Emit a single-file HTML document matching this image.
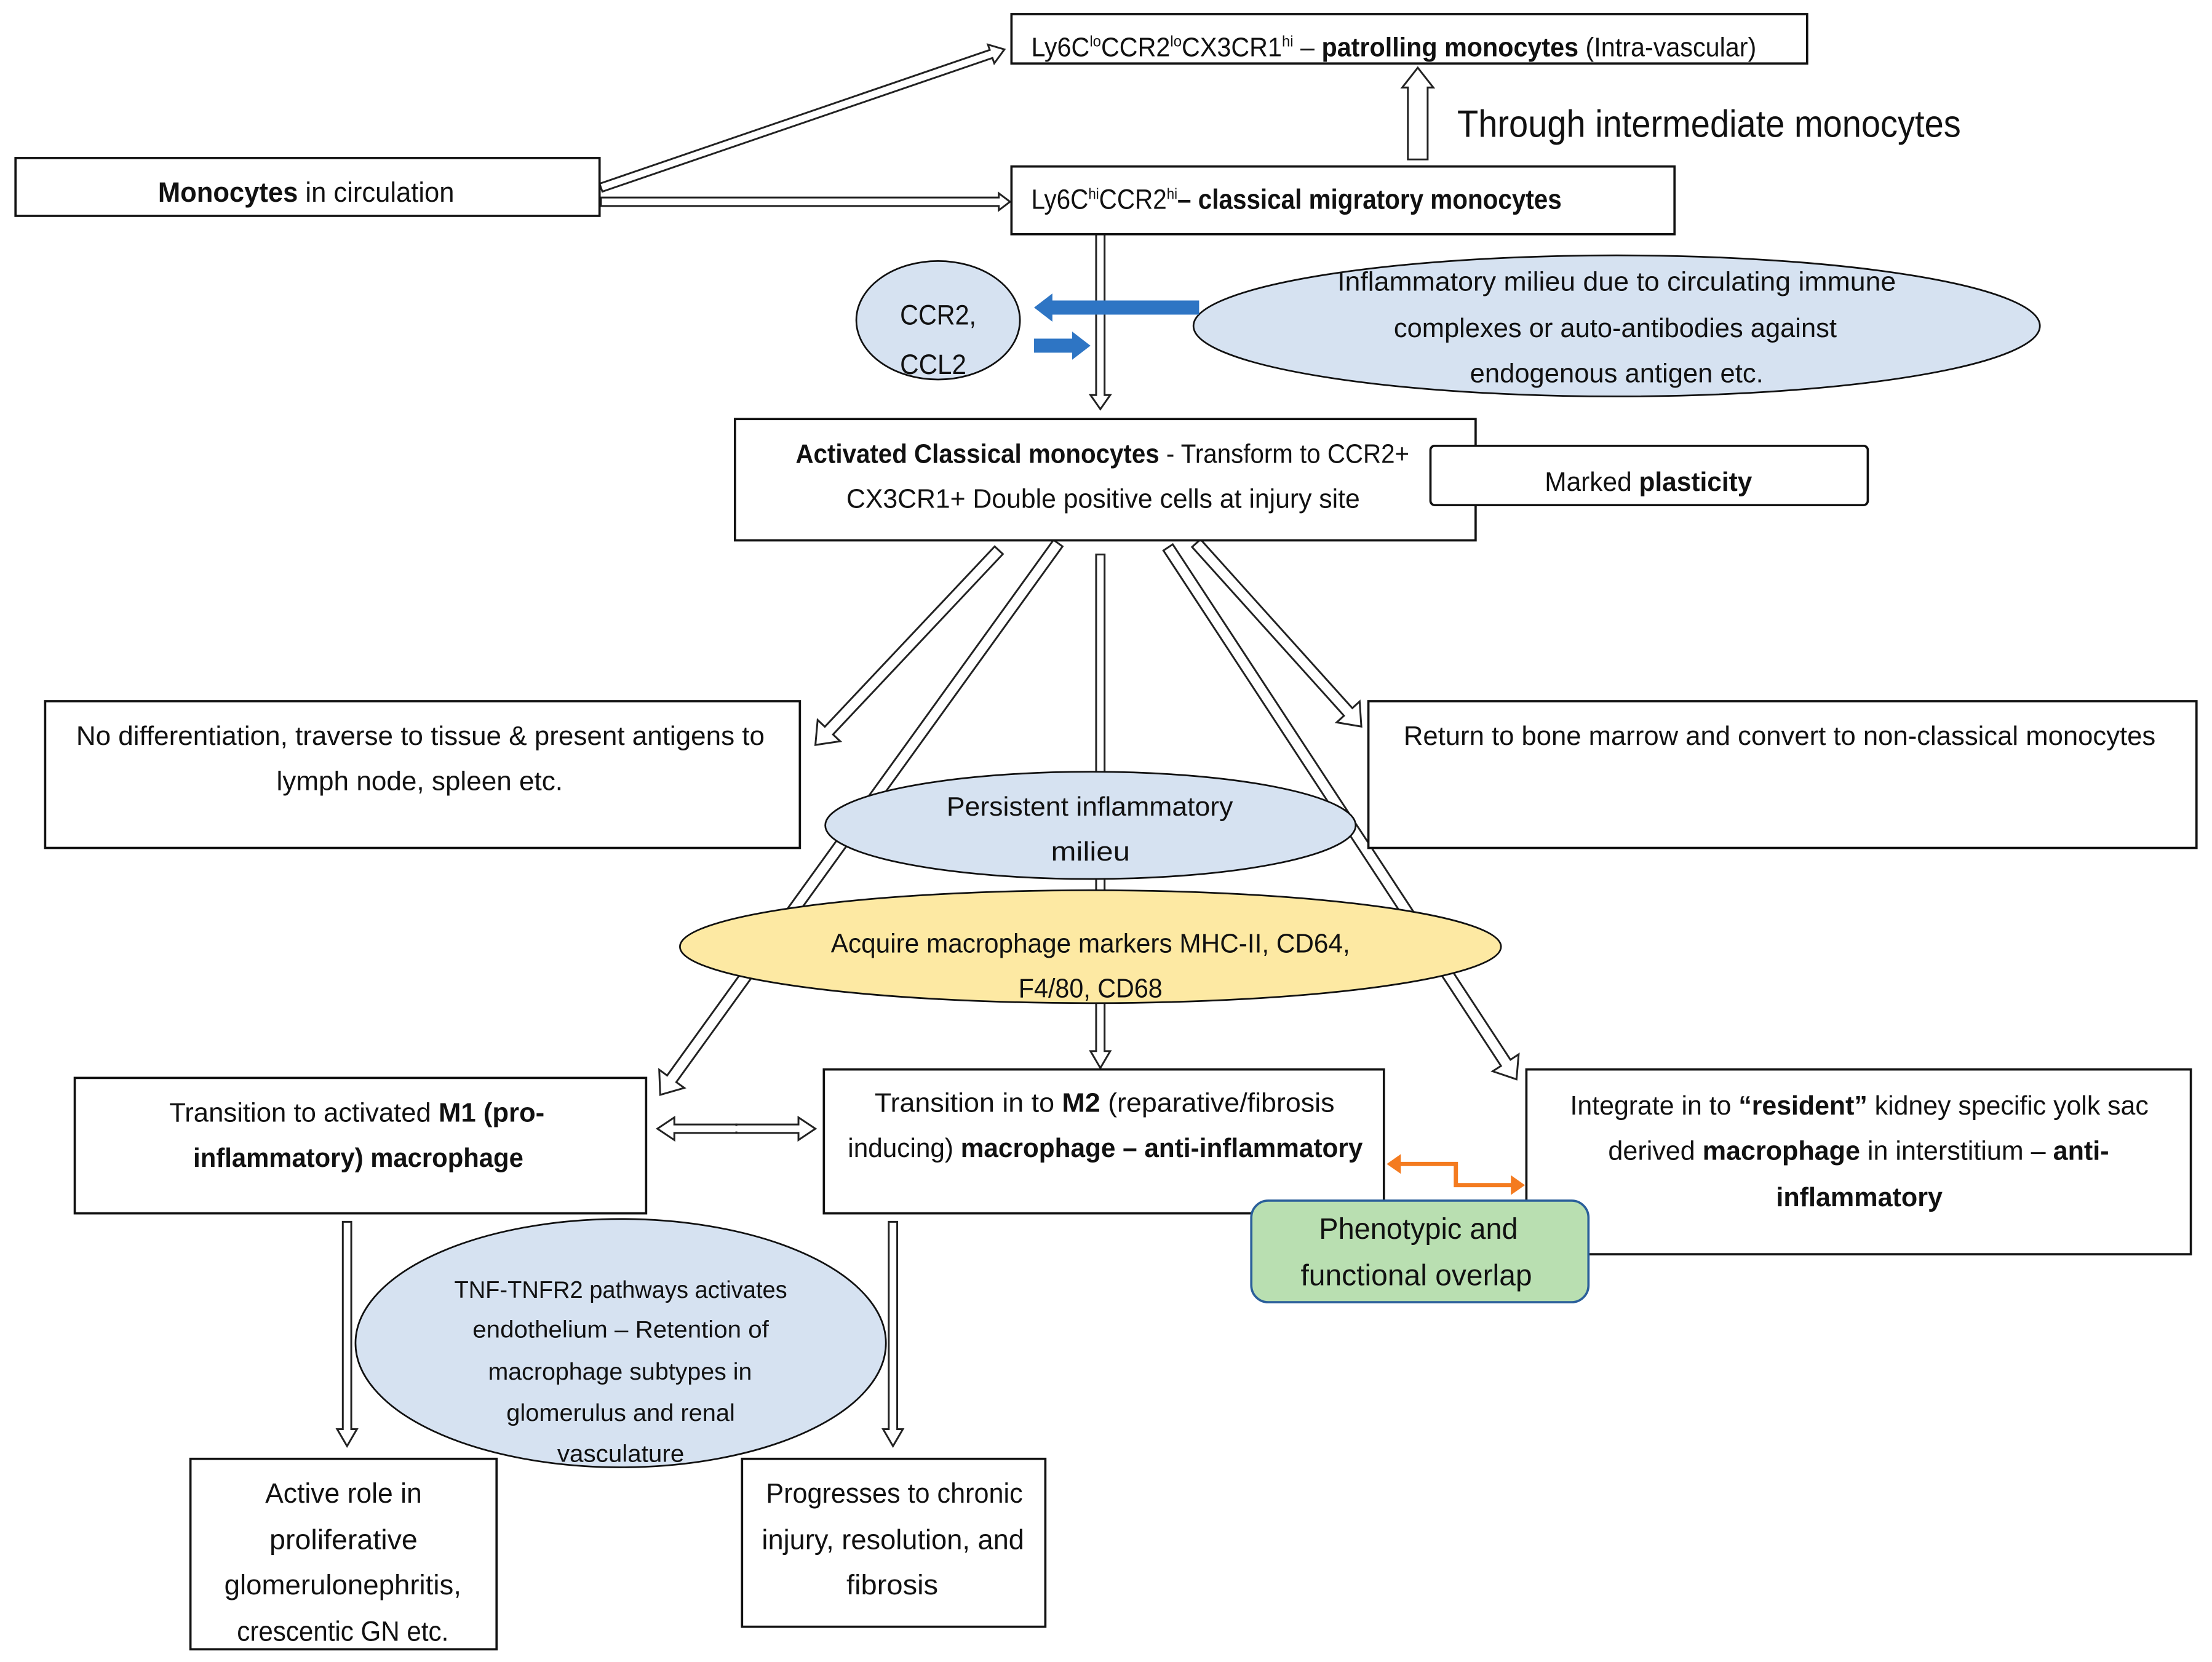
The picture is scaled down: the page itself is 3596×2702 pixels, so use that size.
<!DOCTYPE html>
<html><head><meta charset="utf-8"><style>
html,body{margin:0;padding:0;background:#fff}
svg{display:block}
text{font-family:"Liberation Sans Narrow","Liberation Sans",sans-serif;fill:#111}
</style></head><body>
<svg id="s" width="3596" height="2702" viewBox="0 0 1568 1178" preserveAspectRatio="none" xmlns="http://www.w3.org/2000/svg">
<g id="arrows"></g>
<g fill="#fff" stroke="#111" stroke-width="1.6">
<rect x="717" y="10" width="564" height="35"/>
<rect x="11" y="112" width="414" height="41"/>
<rect x="717" y="118" width="470" height="48"/>
<rect x="521" y="297" width="525" height="86"/>
<rect x="1014" y="316" width="310" height="42" rx="3"/>
<rect x="32" y="497" width="535" height="104"/>
<rect x="970" y="497" width="587" height="104"/>
<rect x="53" y="764" width="405" height="96"/>
<rect x="584" y="758" width="397" height="102"/>
<rect x="1082" y="758" width="471" height="131"/>
<rect x="135" y="1034" width="217" height="135"/>
<rect x="526" y="1034" width="215" height="119"/>
</g>
<g id="arrows2"></g>
<g stroke="#111" stroke-width="1.2">
<ellipse cx="665" cy="227" rx="58" ry="42" fill="#d6e2f1"/>
<ellipse cx="1146" cy="231" rx="300" ry="50" fill="#d6e2f1"/>
<ellipse cx="773" cy="585" rx="188" ry="38" fill="#d6e2f1"/>
<ellipse cx="773" cy="671" rx="291" ry="40" fill="#fde9a3"/>
<ellipse cx="440" cy="952" rx="188" ry="88" fill="#d6e2f1"/>
</g>
<rect x="887" y="851" width="239" height="72" rx="12" fill="#b9dfb1" stroke="#2a5f9a" stroke-width="1.6"/>
<g fill="#2e75c4">
<polygon points="850,213 746,213 746,208 733,218 746,228 746,223 850,223"/>
<polygon points="733,240 760,240 760,235 773,245 760,255 760,250 733,250"/>
</g>
<g fill="none" stroke="#f47b20" stroke-width="3">
<polyline points="990,825 1032,825 1032,840 1073,840"/>
</g>
<polygon points="983,825 993,818 993,832" fill="#f47b20"/>
<polygon points="1081,840 1071,833 1071,847" fill="#f47b20"/>
<g id="txt"></g>
</svg>
<script>
var NS="http://www.w3.org/2000/svg";
function hollow(g,x1,y1,x2,y2,w,hw,hl){
 w=w||6;hw=hw||9;hl=hl||14;
 var dx=x2-x1,dy=y2-y1,L=Math.hypot(dx,dy),ux=dx/L,uy=dy/L,nx=-uy,ny=ux;
 var bx=x2-ux*hl,by=y2-uy*hl;
 var p=[[x1+nx*w/2,y1+ny*w/2],[bx+nx*w/2,by+ny*w/2],[bx+nx*hw,by+ny*hw],[x2,y2],[bx-nx*hw,by-ny*hw],[bx-nx*w/2,by-ny*w/2],[x1-nx*w/2,y1-ny*w/2]];
 var e=document.createElementNS(NS,"polygon");
 e.setAttribute("points",p.map(function(a){return a[0].toFixed(1)+","+a[1].toFixed(1)}).join(" "));
 e.setAttribute("fill","#fff");e.setAttribute("stroke","#222");e.setAttribute("stroke-width","1.3");
 document.getElementById(g).appendChild(e);
}
function dbl(g,x1,y1,x2,y2){
 hollow(g,(x1+x2)/2,y1,x1,y1,6,8,12);hollow(g,(x1+x2)/2,y1,x2,y2,6,8,12);
 var r=document.createElementNS(NS,"rect");r.setAttribute("x",(x1+x2)/2-3);r.setAttribute("y",y1-2);r.setAttribute("width",6);r.setAttribute("height",4);r.setAttribute("fill","#fff");document.getElementById(g).appendChild(r);
}
hollow("arrows",426,133,712,35,6,7,10);
hollow("arrows",426,143,716,143,6,6,8);
hollow("arrows",1005,113,1005,48,14,11,14);
hollow("arrows",780,166,780,290,6,7,10);
hollow("arrows",708,390,578,528,8,11,14);
hollow("arrows",750,385,468,776,8,11,14);
hollow("arrows",780,393,780,757,6,7,12);
hollow("arrows",828,388,1075,765,8,11,14);
hollow("arrows",848,385,965,515,8,11,14);
dbl("arrows",466,800,578,800);
hollow("arrows",246,866,246,1025,6,7,12);
hollow("arrows",633,866,633,1025,6,7,12);

var T=[
[731,1245,40,19,'Ly6C<tspan font-size="11" dy="-7">lo</tspan><tspan dy="7">CCR2</tspan><tspan font-size="11" dy="-7">lo</tspan><tspan dy="7">CX3CR1</tspan><tspan font-size="11" dy="-7">hi</tspan><tspan dy="7"> – </tspan><tspan font-weight="bold">patrolling monocytes</tspan> (Intra-vascular)'],
[1033,1390,97,27,'Through intermediate monocytes'],
[112,322,143,20,'<tspan font-weight="bold">Monocytes</tspan> in circulation'],
[731,1107,148,20,'Ly6C<tspan font-size="11" dy="-7">hi</tspan><tspan dy="7">CCR2</tspan><tspan font-size="11" dy="-7">hi</tspan><tspan dy="7" font-weight="bold">– classical migratory monocytes</tspan>'],
[638,692,230,20,'CCR2,'],[638,685,265,20,'CCL2'],
[948,1344,206,19,'Inflammatory milieu due to circulating immune'],
[988,1302,239,19,'complexes or auto-antibodies against'],
[1042,1250,271,19,'endogenous antigen etc.'],
[564,999,328,19,'<tspan font-weight="bold">Activated Classical monocytes</tspan> - Transform to CCR2+'],
[600,964,360,19,'CX3CR1+ Double positive cells at injury site'],
[1095,1242,348,19,'Marked <tspan font-weight="bold">plasticity</tspan>'],
[54,542,528,19,'No differentiation, traverse to tissue &amp; present antigens to'],
[196,399,560,19,'lymph node, spleen etc.'],
[995,1528,528,19,'Return to bone marrow and convert to non-classical monocytes'],
[671,874,578,19,'Persistent inflammatory'],[745,801,610,19,'milieu'],
[589,957,675,19,'Acquire macrophage markers MHC-II, CD64,'],[722,824,707,19,'F4/80, CD68'],
[120,386,795,19,'Transition to activated <tspan font-weight="bold">M1 (pro-</tspan>'],
[137,371,827,19,'<tspan font-weight="bold">inflammatory) macrophage</tspan>'],
[620,946,788,19,'Transition in to <tspan font-weight="bold">M2</tspan> (reparative/fibrosis'],
[601,966,820,19,'inducing) <tspan font-weight="bold">macrophage – anti-inflammatory</tspan>'],
[1113,1523,790,19,'Integrate in to <tspan font-weight="bold">“resident”</tspan> kidney specific yolk sac'],
[1140,1495,822,19,'derived <tspan font-weight="bold">macrophage</tspan> in interstitium – <tspan font-weight="bold">anti-</tspan>'],
[1259,1377,855,19,'<tspan font-weight="bold">inflammatory</tspan>'],
[935,1076,878,21,'Phenotypic and'],[922,1086,911,21,'functional overlap'],
[322,558,920,17,'TNF-TNFR2  pathways activates'],
[335,545,948,17,'endothelium – Retention of'],
[346,533,978,17,'macrophage subtypes in'],
[359,521,1007,17,'glomerulus and renal'],
[395,485,1036,17,'vasculature'],
[188,299,1065,20,'Active role in'],[191,296,1098,20,'proliferative'],
[159,327,1130,20,'glomerulonephritis,'],[168,318,1163,20,'crescentic GN etc.'],
[543,725,1065,20,'Progresses to chronic'],[540,726,1098,20,'injury, resolution, and'],[600,665,1130,20,'fibrosis']
];
var h='';
T.forEach(function(t){h+='<text x="'+t[0]+'" y="'+t[2]+'" font-size="'+t[3]+'" textLength="'+(t[1]-t[0])+'" lengthAdjust="spacingAndGlyphs">'+t[4]+'</text>';});
document.getElementById("txt").innerHTML=h;
</script>
</body></html>
